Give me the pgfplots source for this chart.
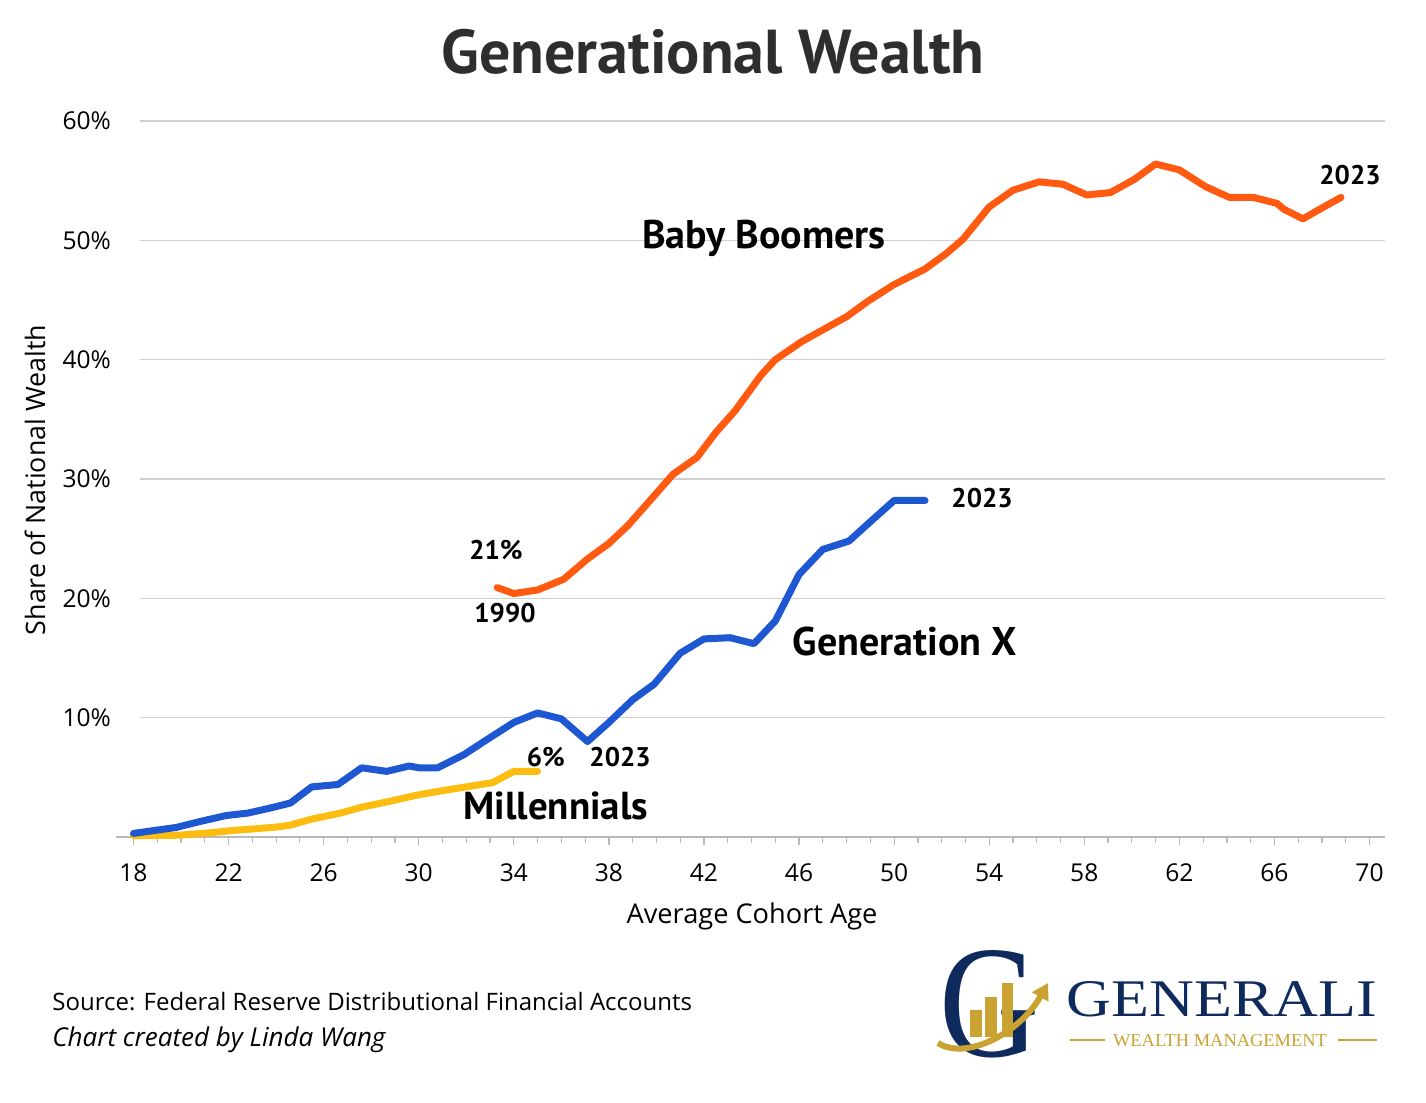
\documentclass[border=0pt]{standalone}
\usepackage{pgfplots}
\pgfplotsset{compat=1.18}
\usepackage{fontspec}
\setmainfont{Open Sans}
\newfontfamily\ptsans{PT Sans}
\newfontfamily\lserif{Liberation Serif}
\usetikzlibrary{arrows.meta}
\definecolor{boomer}{HTML}{FF5A0F}
\definecolor{genx}{HTML}{1E57D2}
\definecolor{mill}{HTML}{FDBD10}
\definecolor{navy}{HTML}{0F2A5C}
\definecolor{gold}{HTML}{C9A232}
\definecolor{gridc}{HTML}{D0D0D0}
\definecolor{titlec}{HTML}{2E2E2E}
\begin{document}
\begin{tikzpicture}
\useasboundingbox (-58pt,-133pt) rectangle (655pt,418.5pt);
\begin{axis}[
  at={(0,0)}, anchor=south west,
  scale only axis, width=634.5pt, height=358pt,
  xmin=17.264, xmax=70.65, ymin=0, ymax=60,
  clip=false,
  axis lines*=left,
  y axis line style={draw=none},
  x axis line style={draw=gray!55, line width=1pt},
  xtick={18,22,...,70},
  minor x tick num=3,
  xtick align=outside,
  major tick length=4pt, minor tick length=3pt,
  xtick style={draw=gray!55, line width=0.6pt},
  ytick={10,20,...,60},
  ytick style={draw=none},
  yticklabel={\pgfmathprintnumber{\tick}\%},
  /pgf/number format/assume math mode=true,
  tick label style={font=\fontsize{12.3}{14}\selectfont, text=black},
  xticklabel style={yshift=-6pt},
  yticklabel style={xshift=1pt},
]
\draw[gridc, line width=0.8pt] (axis cs:18.27,10) -- (axis cs:70.65,10);
\draw[gridc, line width=0.8pt] (axis cs:18.27,20) -- (axis cs:70.65,20);
\draw[gridc, line width=0.8pt] (axis cs:18.27,30) -- (axis cs:70.65,30);
\draw[gridc, line width=0.8pt] (axis cs:18.27,40) -- (axis cs:70.65,40);
\draw[gridc, line width=0.8pt] (axis cs:18.27,50) -- (axis cs:70.65,50);
\draw[gridc, line width=0.8pt] (axis cs:18.27,60) -- (axis cs:70.65,60);

\addplot[mill, line width=3.5pt, line join=round, line cap=round] coordinates {
(18.0,0.1)(19.9,0.15)(21.2,0.35)(22.2,0.55)(23.2,0.7)(24.1,0.85)(24.6,1.0)(25.5,1.5)(26.7,2.0)(27.6,2.5)(28.8,3.0)(29.9,3.5)(30.9,3.85)(32.0,4.2)(33.1,4.55)(34.0,5.5)(35.0,5.5)
};
\addplot[genx, line width=3.5pt, line join=round, line cap=round] coordinates {
(18.0,0.3)(19.8,0.8)(20.8,1.3)(21.9,1.8)(22.8,2.0)(23.7,2.4)(24.6,2.85)(25.5,4.2)(26.6,4.4)(27.6,5.8)(28.65,5.5)(29.6,5.95)(30.0,5.8)(30.8,5.8)(31.9,6.9)(32.9,8.2)(34.0,9.6)(35.0,10.4)(36.0,9.9)(37.1,8.0)(38.0,9.6)(39.0,11.5)(39.9,12.8)(41.0,15.4)(42.0,16.6)(43.1,16.7)(44.1,16.2)(45.0,18.1)(46.0,22.0)(47.0,24.1)(48.1,24.8)(49.1,26.6)(50.0,28.2)(51.3,28.2)
};
\addplot[boomer, line width=3.5pt, line join=round, line cap=round] coordinates {
(33.3,20.9)(34.0,20.4)(35.0,20.7)(36.1,21.6)(37.1,23.3)(38.0,24.6)(38.8,26.1)(39.6,27.9)(40.7,30.4)(41.7,31.8)(42.5,33.9)(43.3,35.7)(44.4,38.7)(45.0,40.0)(46.1,41.5)(47.0,42.5)(48.0,43.6)(48.9,44.9)(50.0,46.3)(51.3,47.6)(52.2,48.9)(52.9,50.1)(54.0,52.8)(55.0,54.2)(56.1,54.9)(57.1,54.7)(58.1,53.8)(59.1,54.0)(60.1,55.1)(61.0,56.4)(62.0,55.9)(63.1,54.5)(64.1,53.6)(65.1,53.6)(66.1,53.1)(66.4,52.6)(67.2,51.8)(67.9,52.6)(68.8,53.6)
};

\node[font=\ptsans\bfseries\fontsize{20}{24}\selectfont] at (axis cs:44.52,50.2) {Baby Boomers};
\node[font=\ptsans\bfseries\fontsize{20}{24}\selectfont] at (axis cs:50.45,16.4) {Generation X};
\node[font=\ptsans\bfseries\fontsize{19.5}{24}\selectfont] at (axis cs:35.77,2.6) {Millennials};
\node[font=\ptsans\bfseries\fontsize{13.5}{16}\selectfont] at (axis cs:33.25,24.06) {21\%};
\node[font=\ptsans\bfseries\fontsize{13.5}{16}\selectfont] at (axis cs:33.63,18.8) {1990};
\node[font=\ptsans\bfseries\fontsize{13.5}{16}\selectfont] at (axis cs:35.35,6.7) {6\%};
\node[font=\ptsans\bfseries\fontsize{13.5}{16}\selectfont] at (axis cs:38.47,6.7) {2023};
\node[font=\ptsans\bfseries\fontsize{13.5}{16}\selectfont] at (axis cs:53.7,28.4) {2023};
\node[font=\ptsans\bfseries\fontsize{13.5}{16}\selectfont] at (axis cs:69.18,55.5) {2023};
\end{axis}

% title and axis labels
\node[font=\ptsans\bfseries\fontsize{31}{37}\selectfont, text=titlec] at (298.5pt,392.5pt) {Generational Wealth};
\node[font=\fontsize{13.4}{16}\selectfont, rotate=90] at (-40.5pt,178.5pt) {Share of National Wealth};
\node[font=\fontsize{13.6}{16}\selectfont] at (318pt,-39.5pt) {Average Cohort Age};

% footer
\node[font=\fontsize{12}{14}\selectfont, anchor=west, inner sep=0pt] at (-32pt,-82.5pt) {Source: Federal Reserve Distributional Financial Accounts};
\node[font=\itshape\fontsize{13}{15}\selectfont, anchor=west, inner sep=0pt] at (-32pt,-101.5pt) {Chart created by Linda Wang};

% logo
\node[text=navy, inner sep=0pt] at (437pt,-83.5pt) {\resizebox{50pt}{53pt}{\lserif G}};
\fill[gold] (427pt,-100pt) rectangle (433pt,-86.5pt);
\fill[gold] (434.5pt,-100pt) rectangle (440.5pt,-80pt);
\fill[gold] (443pt,-100pt) rectangle (448.5pt,-73pt);
\draw[gold, line width=3pt, -{Triangle[length=8pt,width=9pt]}] (411pt,-103pt) .. controls (425pt,-112pt) and (452pt,-98pt) .. (466pt,-73pt);
\node[text=navy, inner sep=0pt] at (553pt,-81.25pt) {\resizebox{155pt}{17.5pt}{\lserif GENERALI}};
\node[text=gold, inner sep=0pt] at (552pt,-102pt) {\resizebox{107pt}{6pt}{\lserif WEALTH MANAGEMENT}};
\draw[gold, line width=0.8pt] (477pt,-101.5pt) -- (494.5pt,-101.5pt);
\draw[gold, line width=0.8pt] (611pt,-101.5pt) -- (630.5pt,-101.5pt);
\end{tikzpicture}
\end{document}
